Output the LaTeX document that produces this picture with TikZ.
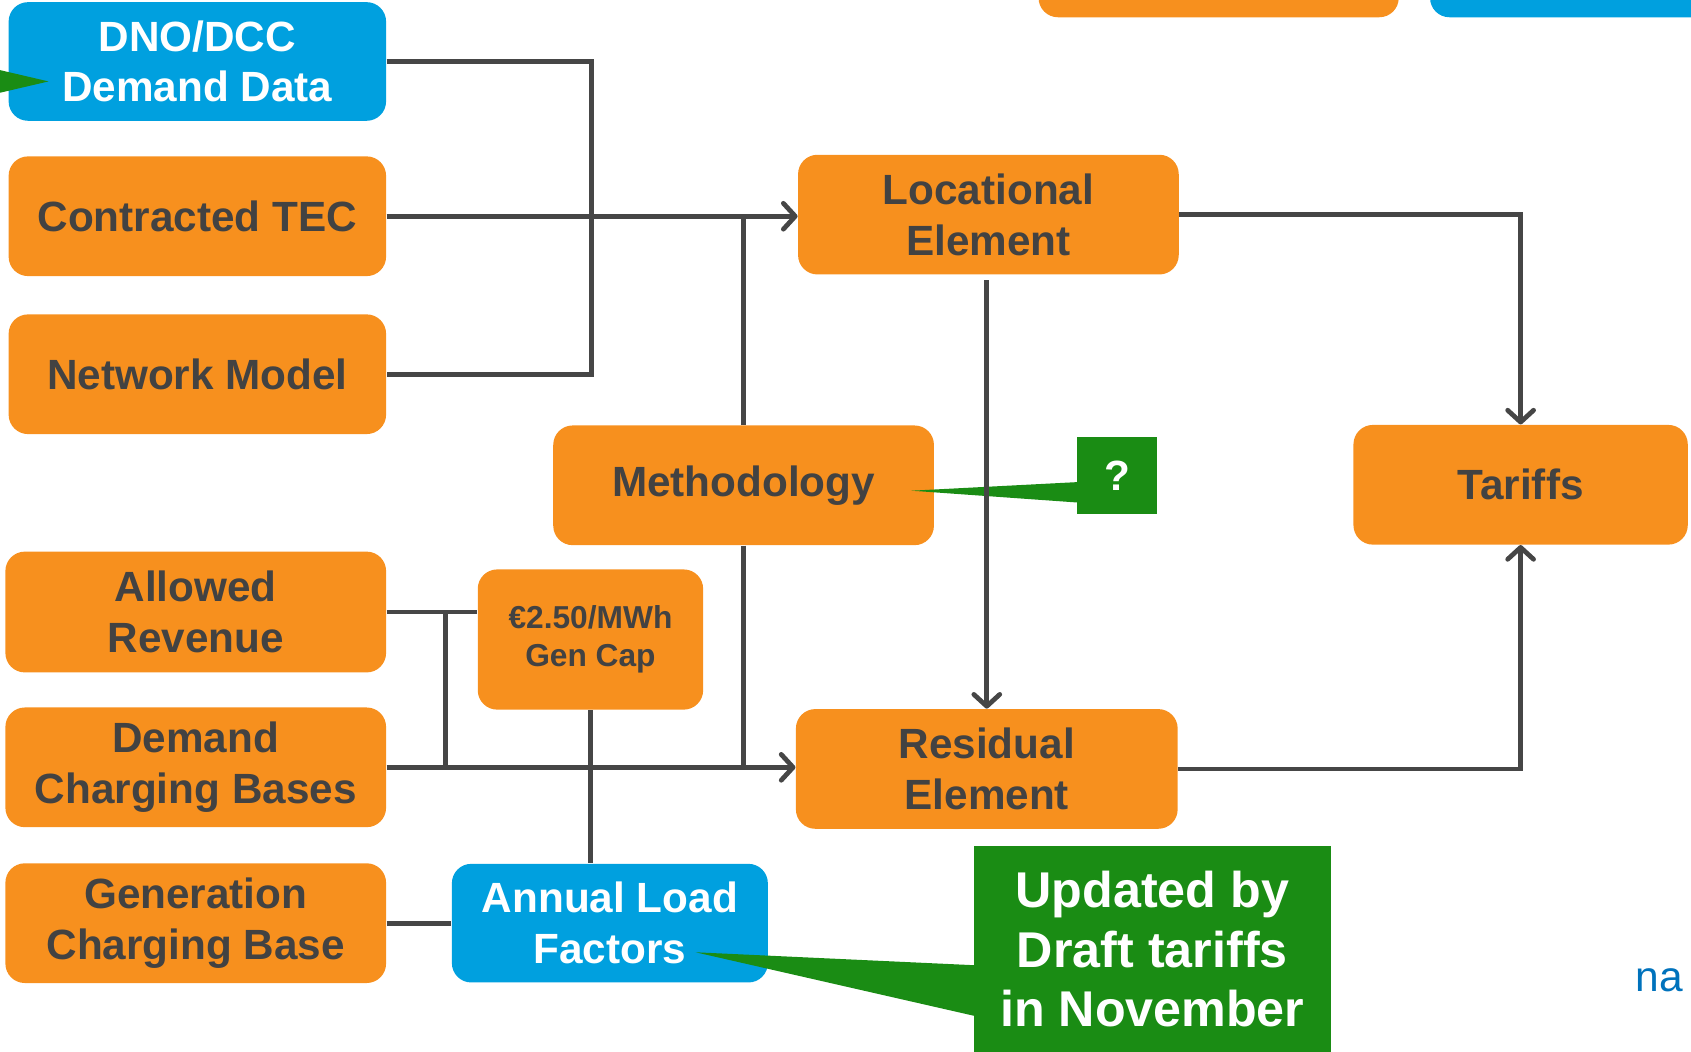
\documentclass[tikz,border=0pt]{standalone}
\usepackage{fontspec}
\setmainfont{Liberation Sans}
\usetikzlibrary{arrows.meta,calc}
\definecolor{ngorange}{RGB}{247,144,30}
\definecolor{ngblue}{RGB}{0,160,223}
\definecolor{nggreen}{RGB}{26,140,20}
\definecolor{ngtext}{RGB}{66,66,66}
\definecolor{ngline}{RGB}{70,70,70}
\definecolor{nglogo}{RGB}{0,114,188}
\begin{document}
\begin{tikzpicture}[x=0.5pt,y=-0.5pt,
  box/.style={rectangle, rounded corners=9pt, inner sep=0pt, align=center,
    font=\fontsize{19.6pt}{23.5pt}\selectfont\bfseries},
  obox/.style={box, fill=ngorange, text=ngtext},
  bbox/.style={box, fill=ngblue, text=white},
  gbox/.style={rectangle, fill=nggreen, text=white, inner sep=0pt, align=center},
  conn/.style={draw=ngline, line width=2.2pt},
  arr/.style={conn, -{Straight Barb[length=5.5pt,width=12pt,round]}},
]
\useasboundingbox (0,0) rectangle (1568,975);
\begin{scope}
\clip (0,0) rectangle (1568,975);

% partial boxes at the top edge
\fill[ngorange, rounded corners=9pt] (963,-60) rectangle (1297,16);
\fill[ngblue, rounded corners=9pt] (1326,-60) rectangle (1640,16);

% input boxes
\node[bbox, minimum width=175pt, minimum height=55pt] (dno) at (183,57) {DNO/DCC\\Demand Data};
\node[obox, minimum width=175pt, minimum height=55.5pt] (tec) at (183,200.5) {Contracted TEC};
\node[obox, minimum width=175pt, minimum height=55.5pt] (net) at (183,347) {Network Model};
\node[obox, minimum width=176.5pt, minimum height=56pt] (rev) at (181.5,567.5) {Allowed\\Revenue};
\node[obox, minimum width=176.5pt, minimum height=55.5pt] (dcb) at (181.5,711.5) {Demand\\Charging Bases};
\node[obox, minimum width=176.5pt, minimum height=55.5pt] (gcb) at (181.5,856) {Generation\\Charging Base};
\node[obox, minimum width=104.5pt, minimum height=65pt,
  font=\fontsize{14.7pt}{17.5pt}\selectfont\bfseries] (gencap) at (547.5,593) {€2.50/MWh\\Gen Cap};
\node[bbox, minimum width=146.5pt, minimum height=55pt] (alf) at (565.5,856) {Annual Load\\Factors};

% processing boxes
\node[obox, minimum width=176.5pt, minimum height=55.5pt] (meth) at (689.5,450) {Methodology};
\node[obox, minimum width=176.5pt, minimum height=55.5pt] (loc) at (916.5,199) {Locational\\Element};
\node[obox, minimum width=177pt, minimum height=55.5pt] (res) at (915,713) {Residual\\Element};
\node[obox, minimum width=155pt, minimum height=55.5pt] (tar) at (1410,449.5) {Tariffs};

% green callouts
\node[gbox, minimum width=37pt, minimum height=36pt,
  font=\fontsize{19.6pt}{23.5pt}\selectfont\bfseries] (q) at (1036,441) {?};
\coordinate (qtip) at (845,455);
\fill[nggreen] ($(q.west)+(1,6)$) -- (qtip) -- ($(q.west)+(1,25)$) -- cycle;

\node[gbox, minimum width=165.5pt, minimum height=110pt, anchor=north] (updbox) at (1068.5,784) {};
\node[text=white, align=center, inner sep=0pt,
  font=\fontsize{23.3pt}{27.5pt}\selectfont\bfseries] (upd) at (1068.5,880) {Updated by\\Draft tariffs\\in November};
\coordinate (updtip) at (645,883);
\fill[nggreen] ($(updbox.north west)+(1,111)$) -- (updtip) -- ($(updbox.north west)+(1,158)$) -- cycle;

\coordinate (dnotipbase) at (0,65);
\coordinate (dnotip) at (45,75.5);
\fill[nggreen] (dnotipbase) -- (dnotip) -- (0,86) -- cycle;

% logo fragment
\node[anchor=base west, inner sep=0pt, text=nglogo,
  font=\fontsize{19.7pt}{20pt}\selectfont] (logo) at (1516,919) {na};

% connectors
\draw[conn] (dno.east) -- ++(190,0) |- (net.east);
\draw[arr] (tec.east) -- (tec.east -| loc.west);
\draw[conn] (meth.north) -- (meth.north |- tec.east);
\draw[conn] (meth.south) -- (meth.south |- dcb.east);
\draw[arr] (dcb.east) -- (dcb.east -| res.west);
\draw[conn] (rev.east) -- (rev.east -| gencap.west);
\coordinate (j1) at ($(rev.east)+(55,0)$);
\draw[conn] (j1) -- (j1 |- dcb.east);
\draw[conn] (gencap.south) -- (gencap.south |- alf.north);
\draw[conn] (gcb.east) -- (gcb.east -| alf.west);
\draw[arr] ([yshift=-2.5pt]res.north |- loc.south) -- (res.north);
\draw[arr] (loc.east) -| (tar.north);
\draw[arr] (res.east) -| (tar.south);
\end{scope}
\end{tikzpicture}
\end{document}
